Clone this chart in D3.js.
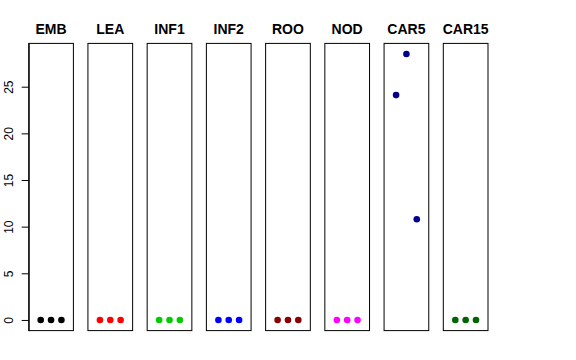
<!DOCTYPE html>
<html>
<head>
<meta charset="utf-8">
<script src="https://cdn.jsdelivr.net/npm/d3@7"></script>
<style>
  body { margin: 0; background: #fff; }
  text { font-family: "Liberation Sans", Arial, Helvetica, sans-serif; }
</style>
</head>
<body>
<div id="chart"></div>
<script>
const width = 576, height = 360;

// data
const panels = ["EMB", "LEA", "INF1", "INF2", "ROO", "NOD", "CAR5", "CAR15"];
const colors = ["#000000", "#FF0000", "#00CD00", "#0000FF", "#8B0000", "#FF00FF", "#00008B", "#006400"];
const xs = [1, 2, 3];
const embVals = [0, 0, 0];
const leaVals = [0, 0, 0];
const inf1Vals = [0, 0, 0];
const inf2Vals = [0, 0, 0];
const rooVals = [0, 0, 0];
const nodVals = [0, 0, 0];
const car5Vals = [24.1, 28.5, 10.8];
const car15Vals = [0, 0, 0];
const yTicks = [0, 5, 10, 15, 20, 25];

const allVals = [embVals, leaVals, inf1Vals, inf2Vals, rooVals, nodVals, car5Vals, car15Vals];

const svg = d3.select("#chart").append("svg")
    .attr("width", width)
    .attr("height", height);

// panel placement
const panelW = 44.7;
const panelX = d3.scaleLinear().domain([0, 7]).range([28.7, 443.3]);
const x = d3.scaleLinear().domain([-0.16, 4.16]).range([0, panelW]);
const yMax = d3.max(allVals.flat());
const pad = yMax * 0.04;
const y = d3.scaleLinear().domain([-pad, yMax + pad]).range([330.6, 43.4]);

panels.forEach((name, i) => {
    const g = svg.append("g")
        .attr("transform", `translate(${panelX(i)},0)`);

    g.append("rect")
        .attr("x", 0)
        .attr("y", y(yMax + pad))
        .attr("width", panelW)
        .attr("height", y(-pad) - y(yMax + pad))
        .attr("fill", "none")
        .attr("stroke", "#000")
        .attr("stroke-width", 1);

    g.append("text")
        .attr("x", panelW / 2)
        .attr("y", 34)
        .attr("text-anchor", "middle")
        .attr("font-size", "14px")
        .attr("font-weight", "bold")
        .text(name);

    g.selectAll("circle")
        .data(allVals[i].map((v, j) => ({ x: xs[j], v: v })))
        .join("circle")
        .attr("cx", d => x(d.x))
        .attr("cy", d => y(d.v))
        .attr("r", 3.3)
        .attr("fill", colors[i]);
});

// y axis on first panel
const axis = svg.append("g")
    .attr("transform", `translate(${panelX(0)},0)`)
    .call(d3.axisLeft(y).tickValues(yTicks).tickSize(7).tickSizeOuter(0));

axis.select(".domain").attr("stroke", "#000");
axis.selectAll(".tick line").attr("stroke", "#000");
axis.selectAll(".tick text")
    .attr("transform", "rotate(-90)")
    .attr("x", 0)
    .attr("y", -15.7)
    .attr("dy", 0)
    .attr("text-anchor", "middle")
    .attr("font-size", "12px")
    .attr("font-family", "Liberation Sans, Arial, sans-serif")
    .attr("fill", "#000");
</script>
</body>
</html>
